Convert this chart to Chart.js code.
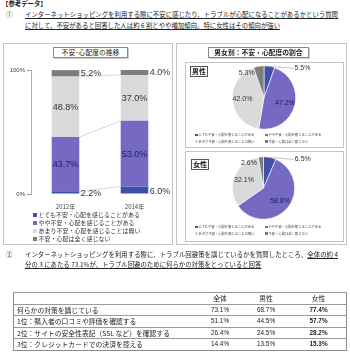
<!DOCTYPE html>
<html><head><meta charset="utf-8">
<script src="https://cdn.jsdelivr.net/npm/chart.js@4.4.1/dist/chart.umd.min.js"></script>
<style>
html,body{margin:0;padding:0;background:#fff;width:350px;height:354px;overflow:hidden;}
body{position:relative;font-family:"Noto Sans CJK JP","Noto Sans",sans-serif;color:#222;}
.a{position:absolute;white-space:nowrap;}
.t{font-size:6.4px;line-height:8px;}
.u{text-decoration:underline;text-underline-offset:1px;text-decoration-thickness:0.5px;}
.just{text-align:justify;text-align-last:justify;}
.box{position:absolute;border:1px solid #c4c4c4;box-sizing:border-box;}
.ttl{position:absolute;border:1px solid #8a8a8a;box-sizing:border-box;font-size:6.8px;line-height:9px;text-align:center;box-shadow:1px 1px 0 #d0d0d0;background:#fff;}
.tag{position:absolute;border:1px solid #555;box-sizing:border-box;font-size:7px;font-weight:bold;line-height:9px;text-align:center;background:#fff;}
canvas{position:absolute;}
#legL{position:absolute;left:33px;top:211px;font-size:6px;line-height:8px;color:#333;}
#legL .sw{display:inline-block;width:4px;height:4px;margin-right:1.5px;vertical-align:0.5px;}
.legP{position:absolute;font-size:3.3px;line-height:6.5px;color:#444;}
.legP .it{position:absolute;white-space:nowrap;}
.legP .sw{display:inline-block;width:2.5px;height:2.5px;margin-right:1px;}
table{position:absolute;left:13px;top:292px;width:334px;border-collapse:collapse;font-size:6.8px;color:#222;border:1px solid #8a8a8a;}
td{height:10.5px;padding:0 0 0 3px;border-top:0.8px solid #9a9a9a;line-height:10px;white-space:nowrap;}
td.n{text-align:center;font-family:"Liberation Sans",Arial,sans-serif;font-size:6.4px;padding:0;}
td.b{font-weight:bold;}
</style></head>
<body>
<div class="a" style="left:2px;top:0px;font-size:6.4px;line-height:8px;font-weight:bold;">【参考データ】</div>
<div class="a t" style="left:6px;top:11px;">①</div>
<div class="a t u just" style="left:25px;top:11px;width:313px;">インターネットショッピングを利用する際に不安に感じたり、トラブルが心配になることがあるかという質問</div>
<div class="a t u" style="left:25px;top:22px;">に対して、不安があると回答した人は約 6 割とやや増加傾向。特に女性はその傾向が強い</div>

<div class="box" style="left:3px;top:43px;width:170px;height:202px;"></div>
<div class="box" style="left:176px;top:43px;width:171px;height:202px;"></div>
<div class="box" style="left:185px;top:62px;width:159px;height:86px;"></div>
<div class="box" style="left:185px;top:151px;width:159px;height:91px;"></div>

<canvas id="bar" width="175" height="152" style="left:0px;top:60px;width:175px;height:152px;"></canvas>
<canvas id="pieM" width="159" height="86" style="left:185px;top:62px;width:159px;height:86px;"></canvas>
<canvas id="pieF" width="159" height="91" style="left:185px;top:151px;width:159px;height:91px;"></canvas>

<div class="ttl" style="left:53px;top:47px;width:75px;height:11px;">不安･心配度の推移</div>
<div class="ttl" style="left:208px;top:47px;width:101px;height:11px;font-weight:bold;">男女別：不安・心配度の割合</div>
<div class="tag" style="left:190px;top:66px;width:18px;height:11px;">男性</div>
<div class="tag" style="left:191px;top:159px;width:18px;height:11px;">女性</div>

<div id="legL"></div>
<div class="legP" id="legM" style="left:195px;top:132px;"></div>
<div class="legP" id="legF" style="left:195px;top:224px;"></div>

<div class="a t" style="left:6px;top:251px;">②</div>
<div class="a t just" style="left:25px;top:251px;width:313px;">インターネットショッピングを利用する際に、トラブル回避策を講じているかを質問したところ、<span class="u">全体の約 4</span></div>
<div class="a t u" style="left:25px;top:261px;">分の 3 にあたる 73.1%が、トラブル回避のために何らかの対策をとっていると回答</div>

<table id="tbl"></table>

<script>
// ---- data ----
const years = ['2012年', '2014年'];
const seriesNames = ['とても不安・心配を感じることがある', 'やや不安・心配を感じることがある', 'あまり不安・心配を感じることは無い', '不安・心配は全く感じない'];
const veryAnxious = [2.2, 6.0];
const somewhatAnxious = [43.7, 53.0];
const notMuchAnxious = [48.8, 37.0];
const notAtAllAnxious = [5.2, 4.0];
const yTickValues = [0, 100];
const maleShares = [5.5, 47.2, 42.0, 5.3];
const femaleShares = [6.5, 58.8, 32.1, 2.6];
const tableHeader = ['', '全体', '男性', '女性'];
const tableLabels = ['何らかの対策を講じている', '1位：購入者の口コミや評価を確認する', '2位：サイトの安全性表記（SSL など）を確認する', '3位：クレジットカードでの決済を控える'];
const totalPct = [73.1, 51.1, 26.4, 14.4];
const malePct = [68.7, 44.5, 24.5, 13.5];
const femalePct = [77.4, 57.7, 28.2, 15.3];

const colors = ['#3e4fac', '#7669c4', '#dadada', '#7c7c7c'];
const NUMFONT = '"Liberation Sans", Arial, sans-serif';

// ---- left legend ----
const legL = document.getElementById('legL');
seriesNames.forEach((n, i) => {
  const d = document.createElement('div');
  d.innerHTML = '<span class="sw" style="background:' + colors[i] + '"></span>' + n;
  legL.appendChild(d);
});
function pieLegend(id) {
  const el = document.getElementById(id);
  const pos = [[0, 0], [70, 0], [0, 6.5], [70, 6.5]];
  seriesNames.forEach((n, i) => {
    const d = document.createElement('div');
    d.className = 'it';
    d.style.left = pos[i][0] + 'px'; d.style.top = pos[i][1] + 'px';
    d.innerHTML = '<span class="sw" style="background:' + colors[i] + '"></span>' + n;
    el.appendChild(d);
  });
}
pieLegend('legM'); pieLegend('legF');

// ---- table ----
const tbl = document.getElementById('tbl');
let html = '<tr>' + tableHeader.map((h, i) => i === 0 ? '<td style="width:182px"></td>' : '<td class="n" style="font-family:inherit;font-size:6.8px">' + h + '</td>').join('') + '</tr>';
tableLabels.forEach((l, r) => {
  html += '<tr><td>' + l + '</td><td class="n" style="width:42px">' + totalPct[r].toFixed(1) + '%</td><td class="n" style="width:50px">' + malePct[r].toFixed(1) + '%</td><td class="n b">' + femalePct[r].toFixed(1) + '%</td></tr>';
});
tbl.innerHTML = html;

// ---- bar chart ----
const barLabelPlugin = {
  id: 'barLabels',
  afterDatasetsDraw(chart) {
    const ctx = chart.ctx;
    ctx.save();
    ctx.textBaseline = 'middle';
    chart.data.datasets.forEach((ds, di) => {
      const meta = chart.getDatasetMeta(di);
      meta.data.forEach((bar, i) => {
        const v = ds.data[i];
        const p = bar.getProps(['x', 'y', 'base', 'width'], true);
        const cy = (p.y + p.base) / 2;
        const txt = v.toFixed(1) + '%';
        ctx.font = '9px ' + NUMFONT;
        if (v < 10) {
          ctx.fillStyle = '#333';
          ctx.textAlign = 'left';
          ctx.fillText(txt, p.x + p.width / 2 + 1.5, cy + (di === 0 ? 1.5 : 0.5));
        } else {
          ctx.fillStyle = di === 1 ? '#20205e' : '#333';
          ctx.textAlign = 'center';
          ctx.fillText(txt, p.x, cy + 0.5);
        }
      });
    });
    ctx.restore();
  }
};
const seriesLinePlugin = {
  id: 'seriesLines',
  beforeDatasetsDraw(chart) {
    const ctx = chart.ctx;
    const ys = chart.scales.y;
    const m0 = chart.getDatasetMeta(0).data;
    ctx.save();
    ctx.strokeStyle = '#c8c8c8';
    ctx.lineWidth = 0.7;
    const n = chart.data.datasets.length;
    for (let k = 0; k < n - 1; k++) {
      let c0 = 0, c1 = 0;
      for (let d = 0; d <= k; d++) { c0 += chart.data.datasets[d].data[0]; c1 += chart.data.datasets[d].data[1]; }
      const b0 = m0[0].getProps(['x', 'width'], true), b1 = m0[1].getProps(['x', 'width'], true);
      ctx.beginPath();
      ctx.moveTo(b0.x + b0.width / 2, ys.getPixelForValue(c0));
      ctx.lineTo(b1.x - b1.width / 2, ys.getPixelForValue(c1));
      ctx.stroke();
    }
    ctx.restore();
  }
};
const stackSeries = [veryAnxious, somewhatAnxious, notMuchAnxious, notAtAllAnxious];
new Chart(document.getElementById('bar'), {
  type: 'bar',
  data: {
    labels: years,
    datasets: stackSeries.map((arr, i) => ({
      label: seriesNames[i], data: arr, backgroundColor: colors[i], borderWidth: 0,
      barPercentage: 0.4, categoryPercentage: 1.0
    }))
  },
  options: {
    responsive: false, animation: false, devicePixelRatio: 1,
    layout: { padding: { top: 10, right: 6, left: 0, bottom: 0 } },
    plugins: { legend: { display: false }, tooltip: { enabled: false } },
    scales: {
      x: {
        stacked: true,
        grid: { display: false },
        border: { display: false },
        ticks: { color: '#444', font: { size: 6, family: '"Noto Sans CJK JP"' }, padding: 1 },
        afterFit(s) { s.height = 18; }
      },
      y: {
        stacked: true, min: 0, max: 100,
        afterBuildTicks(s) { s.ticks = yTickValues.map(v => ({ value: v })); },
        grid: { drawOnChartArea: false, tickLength: 4, color: '#999' },
        border: { display: true, color: '#999', width: 0.8 },
        ticks: { color: '#444', font: { size: 6, family: NUMFONT }, padding: 2, callback: v => v + '%' },
        afterFit(s) { s.width = 31; }
      }
    }
  },
  plugins: [seriesLinePlugin, barLabelPlugin]
});

// ---- pies ----
const pieLabelPlugin = {
  id: 'pieLabels',
  afterDatasetsDraw(chart) {
    const ctx = chart.ctx;
    const data = chart.data.datasets[0].data;
    const meta = chart.getDatasetMeta(0);
    ctx.save();
    ctx.textBaseline = 'middle';
    ctx.font = '7px ' + NUMFONT;
    meta.data.forEach((arc, i) => {
      const p = arc.getProps(['x', 'y', 'startAngle', 'endAngle', 'outerRadius'], true);
      const mid = (p.startAngle + p.endAngle) / 2;
      const r = p.outerRadius;
      const txt = data[i].toFixed(1) + '%';
      if (i === 0) {
        const ex = p.x + r * Math.cos(mid), ey = p.y + r * Math.sin(mid);
        ctx.strokeStyle = '#888'; ctx.lineWidth = 0.5;
        ctx.beginPath(); ctx.moveTo(ex, ey); ctx.lineTo(ex + 24, ey + 2); ctx.stroke();
        ctx.fillStyle = '#333'; ctx.textAlign = 'left';
        ctx.fillText(txt, ex + 25, ey + 2);
      } else if (i === 3) {
        const ex = p.x + r * 1.02 * Math.cos(mid), ey = p.y + r * 1.02 * Math.sin(mid);
        ctx.fillStyle = '#333'; ctx.textAlign = 'right';
        ctx.fillText(txt, ex - 4, ey + 7);
      } else {
        const lx = p.x + r * 0.68 * Math.cos(mid), ly = p.y + r * 0.68 * Math.sin(mid);
        ctx.fillStyle = i === 1 ? '#20205e' : '#333'; ctx.textAlign = 'center';
        ctx.fillText(txt, lx, ly);
      }
    });
    ctx.restore();
  }
};
function makePie(id, values, pad) {
  new Chart(document.getElementById(id), {
    type: 'pie',
    data: { labels: seriesNames, datasets: [{ data: values, backgroundColor: colors, borderColor: '#fff', borderWidth: 0.6 }] },
    options: {
      responsive: false, animation: false, devicePixelRatio: 1,
      layout: { padding: pad },
      plugins: { legend: { display: false }, tooltip: { enabled: false } }
    },
    plugins: [pieLabelPlugin]
  });
}
makePie('pieM', maleShares, { top: 3.5, bottom: 18.5, left: 15, right: 16 });
makePie('pieF', femaleShares, { top: 5.5, bottom: 22.5, left: 15, right: 17 });
</script>
</body></html>
